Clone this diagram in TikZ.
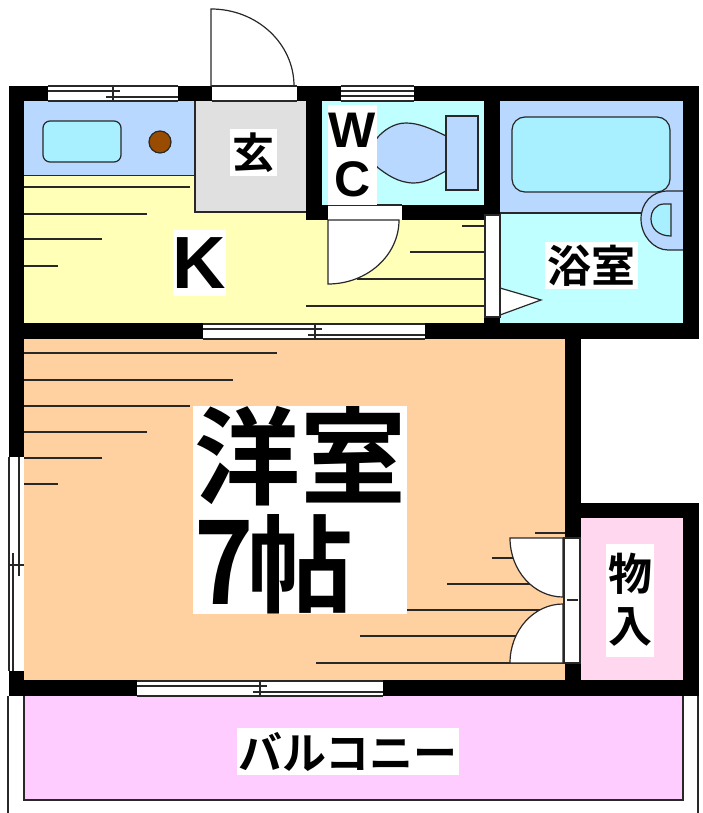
\documentclass[tikz,border=0pt]{standalone}
\usepackage{fontspec}
\usepackage{xcolor}
\setmainfont{Liberation Sans}
\newfontfamily\cjk{Noto Sans CJK JP}[BoldFont={Noto Sans CJK JP Bold}]
\definecolor{bluefloor}{RGB}{184,216,255}
\definecolor{cyanfloor}{RGB}{192,255,255}
\definecolor{tubcolor}{RGB}{168,240,255}
\definecolor{kitchenyellow}{RGB}{255,255,184}
\definecolor{roomorange}{RGB}{255,208,160}
\definecolor{closetpink}{RGB}{255,216,240}
\definecolor{balconypink}{RGB}{255,204,255}
\definecolor{entrygray}{RGB}{224,224,224}
\definecolor{stovebrown}{RGB}{153,76,0}
\definecolor{linedark}{RGB}{40,40,40}
\tikzset{
  floorline/.style={draw=linedark, line width=1.2pt},
  roomlabel/.style={fill=white, inner sep=0pt, font=\cjk\bfseries},
}
% x from, x to, y of the wall top, x of the tick
\newcommand{\hwindow}[4]{
  \fill [white] (#1,#3) rectangle (#2,#3+15);
  \draw [floorline] (#1,#3) -- (#2,#3);
  \draw [floorline] (#1,#3+15) -- (#2,#3+15);
  \draw [floorline] (#1,#3+5) -- (#4+7,#3+5);
  \draw [floorline] (#4-7,#3+11) -- (#2,#3+11);
  \draw [floorline] (#4,#3+1) -- (#4,#3+15);
}

\begin{document}
\begin{tikzpicture}[x=1pt, y=-1pt]
        \useasboundingbox (0,0) rectangle (703,813);

        % Floors
        \fill [kitchenyellow] (24,101) rectangle (485,323);
        \fill [bluefloor] (24,101) rectangle (195,175);
        \fill [entrygray] (195,101) rectangle (306,212);
        \fill [cyanfloor] (322,101) rectangle (484,205);
        \fill [cyanfloor] (500,101) rectangle (683,323);
        \fill [bluefloor] (500,101) rectangle (683,213);
        \fill [roomorange] (24,339) rectangle (565,680);
        \fill [closetpink] (581,518) rectangle (683,680);
        \fill [balconypink] (24,696) rectangle (683,800);

        % Floor hatching, kitchen
        \foreach \ypos/\xend in {187/190, 214/147, 239/102, 266/58}
            \draw [floorline] (24,\ypos) -- (\xend,\ypos);
        \foreach \ypos/\xstart in {226/462, 252/410, 279/357, 306/306}
            \draw [floorline] (\xstart,\ypos) -- (485,\ypos);

        % Floor hatching, room
        \foreach \ypos/\xend in {353/277, 380/233, 406/190, 432/147, 458/102, 484/58}
            \draw [floorline] (24,\ypos) -- (\xend,\ypos);
        \foreach \ypos/\xstart in {533/535, 558/492, 584/447, 610/407, 636/360, 663/316}
            \draw [floorline] (\xstart,\ypos) -- (565,\ypos);

        % Kitchen sink and stove
        \draw [floorline] (24,175.5) -- (195,175.5);
        \draw [floorline, fill=tubcolor, rounded corners=7pt] (43,121) rectangle (121,162);
        \draw [floorline, fill=stovebrown] (160,142) circle (11);
        \draw [floorline] (195,101) -- (195,212) -- (306,212);

        % Toilet
        \draw [floorline, fill=bluefloor] (446,136) .. controls (430,128) and (418,123) .. (406,123)
            .. controls (394,123) and (384,130) .. (377,138) -- (377,167)
            .. controls (386,174) and (398,183) .. (414,183)
            .. controls (426,183) and (436,176) .. (446,171) -- cycle;
        \fill [bluefloor] (376,139) rectangle (380,166);
        \draw [floorline, fill=bluefloor] (446,116) rectangle (478,190);

        % Bath
        \draw [floorline] (500,213) -- (642,213);
        \draw [floorline, fill=tubcolor, rounded corners=13pt] (512,117) rectangle (670,192);
        \draw [floorline, fill=bluefloor] (683,191) -- (668,191)
            .. controls (652,191) and (641,203) .. (641,219)
            .. controls (641,236) and (654,250) .. (668,250) -- (683,250);
        \draw [floorline, fill=tubcolor] (671,204) -- (664,204)
            .. controls (656,204) and (651,211) .. (651,219)
            .. controls (651,228) and (658,236) .. (671,236) -- cycle;
        \draw [floorline, fill=white] (500,288) -- (541,300) -- (500,315) -- cycle;

        % Walls
        \fill (9,86) rectangle (699,101);
        \fill (9,86) rectangle (24,457);
        \fill (9,671) rectangle (24,696);
        \fill (9,323) rectangle (699,339);
        \fill (9,680) rectangle (699,696);
        \fill (683,86) rectangle (699,339);
        \fill (306,86) rectangle (322,220);
        \fill (306,205) rectangle (500,220);
        \fill (484,86) rectangle (500,323);
        \fill (565,339) rectangle (581,696);
        \fill (565,503) rectangle (699,518);
        \fill (683,503) rectangle (699,696);

        % Windows
        \hwindow{48}{178}{86}{113}
        \hwindow{203}{425}{324}{315}
        \hwindow{137}{383}{681}{260}
        \fill [white] (341,86) rectangle (414,101);
        \foreach \ypos in {86,91,96,101}
            \draw [floorline] (341,\ypos) -- (414,\ypos);
        \fill [white] (9,457) rectangle (24,671);
        \draw [floorline] (9,457) -- (9,671);
        \draw [floorline] (19,457) -- (19,576);
        \draw [floorline] (13,553) -- (13,671);
        \draw [floorline] (9,565) -- (24,565);

        % Doors
        \draw [floorline, fill=white] (211,86) -- (211,9) arc [start angle=90, end angle=0, x radius=83, y radius=-77] -- cycle;
        \fill [white] (212,86) rectangle (297,101);
        \draw [floorline] (212,86) -- (297,86);
        \draw [floorline] (212,101) -- (297,101);
        \fill [white] (328,205) rectangle (402,220);
        \draw [floorline] (328,205) -- (402,205);
        \draw [floorline, fill=white] (328,220) -- (328,284) arc [start angle=270, end angle=360, x radius=71, y radius=-64] -- cycle;
        \draw [floorline, fill=white] (485,215) rectangle (500,317);
        \draw [floorline, fill=white] (563,538) -- (510,538) arc [start angle=180, end angle=270, x radius=53, y radius=-59] -- cycle;
        \draw [floorline, fill=white] (563,663) -- (510,663) arc [start angle=180, end angle=90, x radius=53, y radius=-59] -- cycle;
        \draw [floorline, fill=white] (564,538) rectangle (580,663);
        \draw [floorline] (567,600) -- (578,600);

        % Balcony outline
        \draw [floorline] (24,696) -- (24,800) -- (683,800) -- (683,696);
        \draw [floorline] (8,696) -- (8,813);
        \draw [floorline] (698,696) -- (698,813);

        % Labels
        \node [roomlabel, minimum width=47pt, minimum height=47pt, font=\cjk\bfseries\fontsize{42}{44}\selectfont] (entry) at (253.5,152.5) {玄};
        \node [roomlabel, minimum width=53pt, minimum height=66pt, font=\bfseries\fontsize{74}{76}\selectfont] (kitchen) at (199.5,263) {K};
        \node [roomlabel, minimum width=49pt, minimum height=100pt, align=center, font=\bfseries\fontsize{50}{49}\selectfont] (toilet) at (352.5,155) {W\\C};
        \node [roomlabel, minimum width=93pt, minimum height=47pt, font=\cjk\bfseries\fontsize{44}{46}\selectfont] (bathroom) at (591.5,265.5) {浴室};
        \node [roomlabel, minimum width=214pt, minimum height=208pt, align=left, font=\cjk\bfseries\fontsize{106}{108}\selectfont] (room) at (300,510) {洋室\\\scalebox{0.95}[1.1]{7}\hspace{-6pt}帖\hspace{50pt}};
        \node [roomlabel, minimum width=48pt, minimum height=113pt, align=center, font=\cjk\bfseries\fontsize{44}{52}\selectfont] (closet) at (630,600) {物\\入};
        \node [roomlabel, minimum width=222pt, minimum height=47pt, font=\cjk\bfseries\fontsize{44}{46}\selectfont] (balcony) at (348,751.5) {バルコニー};
    \end{tikzpicture}
\end{document}
